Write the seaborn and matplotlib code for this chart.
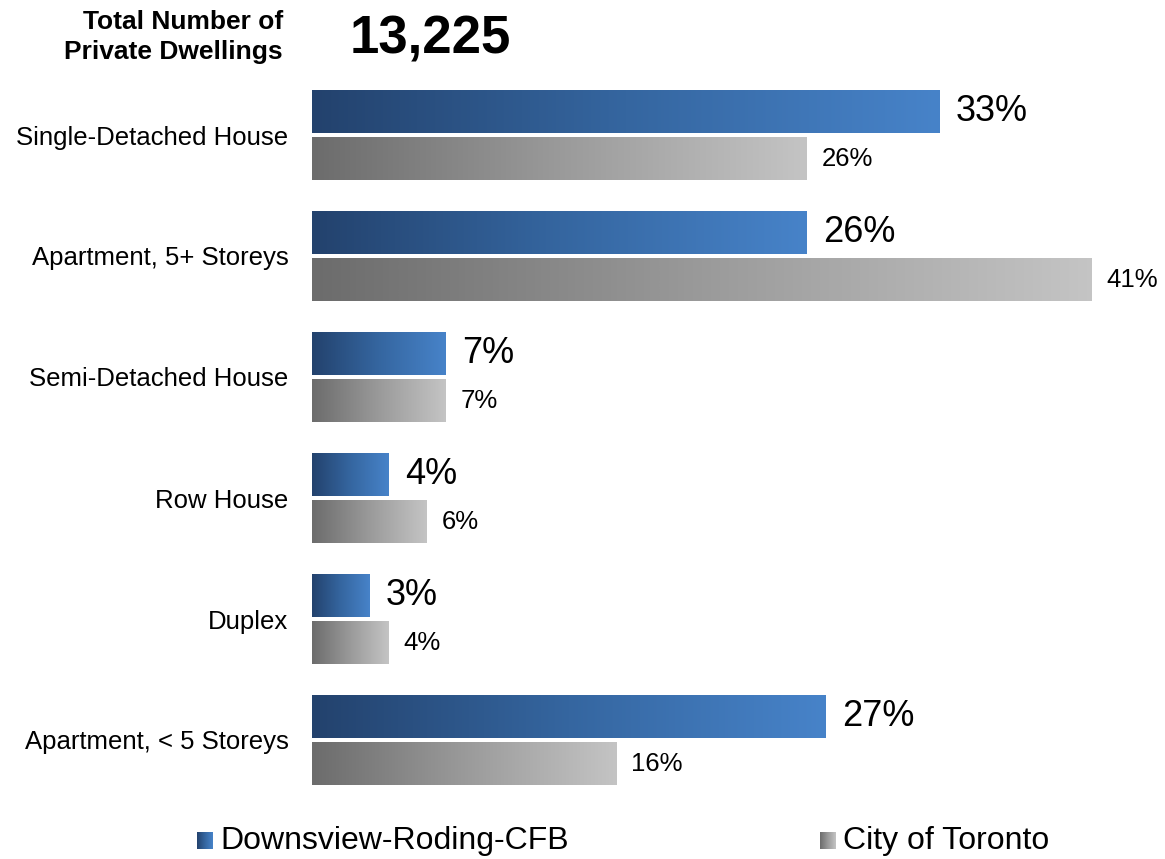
import numpy as np
import pandas as pd
import matplotlib.pyplot as plt
from matplotlib.colors import LinearSegmentedColormap
import seaborn as sns

# ==========================
# Datos
# ==========================
categorias = ["Single-Detached House", "Apartment, 5+ Storeys", "Semi-Detached House",
              "Row House", "Duplex", "Apartment, < 5 Storeys"]
downsview = [33, 26, 7, 4, 3, 27]
toronto = [26, 41, 7, 6, 4, 16]
regiones = ["Downsview-Roding-CFB", "City of Toronto"]
total_viviendas = "13,225"

df = pd.DataFrame({
    "categoria": categorias * 2,
    "valor": downsview + toronto,
    "region": [regiones[0]] * len(categorias) + [regiones[1]] * len(categorias),
})

# ==========================
# Estilo
# ==========================
sns.set_theme(style="white")
plt.rcParams["font.family"] = ["Liberation Sans", "DejaVu Sans"]
plt.rcParams["text.color"] = "black"
plt.rcParams["ytick.color"] = "black"

cmap_azul = LinearSegmentedColormap.from_list("azul", ["#23426d", "#3566a0", "#4783c9"])
cmap_gris = LinearSegmentedColormap.from_list("gris", ["#6c6c6c", "#9a9a9a", "#c4c4c4"])
grad = np.linspace(0, 1, 256).reshape(1, -1)

fig = plt.figure(figsize=(11.65, 8.59), dpi=100)
ax = fig.add_axes([312 / 1165, 1 - 800.5 / 859, 840 / 1165, 726 / 859])

sns.barplot(data=df, y="categoria", x="valor", hue="region", orient="h",
            palette={regiones[0]: "#3566a0", regiones[1]: "#9a9a9a"},
            width=0.78, gap=0.1, legend=False, ax=ax)

# barras con degradado
for cont, cmap in zip(ax.containers, [cmap_azul, cmap_gris]):
    for bar in cont:
        x0, y0 = bar.get_x(), bar.get_y()
        w, h = bar.get_width(), bar.get_height()
        bar.set_alpha(0)
        ax.imshow(grad, cmap=cmap, aspect="auto", extent=[x0, x0 + w, y0 + h, y0],
                  interpolation="bicubic", zorder=3)

# etiquetas de valor
ax.bar_label(ax.containers[0], labels=[f"{v}%" for v in downsview],
             padding=12, fontsize=26, color="black")
ax.bar_label(ax.containers[1], labels=[f"{v}%" for v in toronto],
             padding=11, fontsize=18.5, color="black")

ax.set_xlim(0, 44.2)
ax.set_ylim(5.5, -0.5)
ax.set_xlabel("")
ax.set_ylabel("")
ax.set_xticks([])
ax.tick_params(axis="y", length=0, pad=17, labelsize=18.5, labelcolor="black")
sns.despine(ax=ax, left=True, bottom=True)

# encabezado
fig.text(283 / 1165, 1 - 37 / 859, "Total Number of\nPrivate Dwellings", ha="right", va="center",
         multialignment="right", fontsize=19, fontweight="bold", linespacing=1.3, color="black")
fig.text(350 / 1165, 1 - 40 / 859, total_viviendas, ha="left", va="center",
         fontsize=38, fontweight="bold", color="black")

# leyenda
for x_sq, x_txt, cmap, nombre in [(197, 220, cmap_azul, regiones[0]),
                                  (820, 843, cmap_gris, regiones[1])]:
    lax = fig.add_axes([x_sq / 1165, 1 - 849 / 859, 15 / 1165, 17 / 859])
    lax.imshow(grad, cmap=cmap, aspect="auto")
    lax.axis("off")
    fig.text(x_txt / 1165, 1 - 841 / 859, nombre, ha="left", va="center",
             fontsize=23, color="black")

plt.savefig("out.png", dpi=100)
